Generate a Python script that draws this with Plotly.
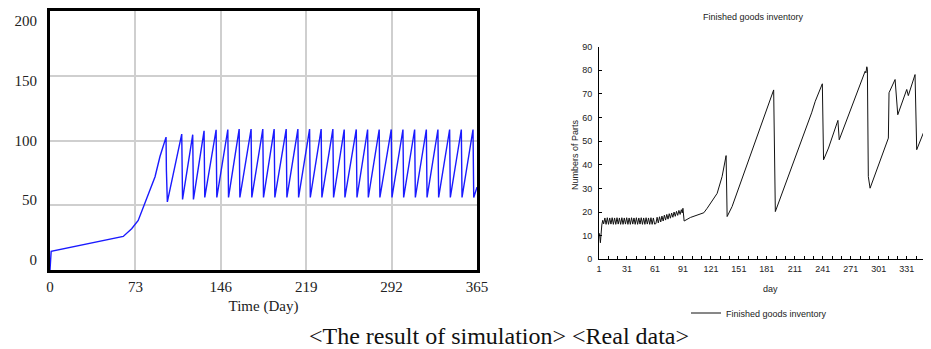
import plotly.graph_objects as go

# ---------------- data: simulation (left) ----------------
sim_day = [0, 0.4, 1.0, 62.6, 66.0, 69.8, 75.4, 82.6, 89.8, 94.0, 99.2, 99.5, 100.3,
           112.6, 112.9, 113.3,
           122.0, 122.3, 122.6,
           131.7, 132.0, 132.3,
           142.0, 142.3, 142.6,
           152.0, 152.3, 152.6,
           161.7, 162.0, 162.3,
           171.9, 172.2, 172.5,
           181.9, 182.2, 182.5,
           191.6, 191.9, 192.2,
           201.9, 202.2, 202.5,
           211.9, 212.2, 212.5,
           221.9, 222.2, 222.5,
           231.8, 232.1, 232.4,
           241.8, 242.1, 242.4,
           251.5, 251.8, 252.1,
           261.8, 262.1, 262.4,
           271.5, 271.8, 272.1,
           281.4, 281.7, 282.0,
           291.7, 292.0, 292.3,
           301.7, 302.0, 302.3,
           311.7, 312.0, 312.3,
           321.7, 322.0, 322.3,
           331.6, 331.9, 332.2,
           341.6, 341.9, 342.2,
           351.6, 351.9, 352.2,
           361.6, 361.9, 362.2,
           365.0]
sim_value = [0, 12.0, 14.5, 25.9, 28.5, 31.9, 38.3, 55.2, 72.0, 87.6, 102.6, 77.0, 52.6,
             105.0, 80.0, 54.5,
             104.5, 81.0, 54.5,
             107.5, 82.0, 56.0,
             108.3, 82.0, 56.0,
             108.5, 82.0, 56.0,
             108.8, 82.0, 56.0,
             108.8, 82.0, 56.0,
             108.8, 82.0, 56.0,
             108.8, 82.0, 56.0,
             108.8, 82.0, 56.0,
             108.8, 82.0, 56.0,
             108.8, 82.0, 56.0,
             108.8, 82.0, 56.0,
             108.8, 82.0, 56.0,
             108.5, 82.0, 56.0,
             108.5, 82.0, 56.0,
             108.5, 82.0, 56.0,
             108.5, 82.0, 56.0,
             108.5, 82.0, 56.0,
             108.5, 82.0, 56.0,
             108.5, 82.0, 56.0,
             108.5, 82.0, 56.0,
             108.5, 82.0, 56.0,
             108.5, 82.0, 56.0,
             108.5, 82.0, 56.0,
             108.5, 82.0, 56.0,
             64.0]

sim_xticks = [0, 73, 146, 219, 292, 365]
sim_yticks = [0, 50, 100, 150, 200]

# ---------------- data: real (right) ----------------
real_day = [1.5, 2.5, 4.0, 5.0, 6.0,
            7.3, 8.6, 9.9, 11.2, 12.5, 13.8, 15.1, 16.4, 17.7, 19.0, 20.3, 21.6, 22.9, 24.2,
            25.5, 26.8, 28.1, 29.4, 30.7, 32.0, 33.3, 34.6, 35.9, 37.2, 38.5, 39.8, 41.1, 42.4,
            43.7, 45.0, 46.3, 47.6, 48.9, 50.2, 51.5, 52.8, 54.1, 55.4, 56.7, 58.0, 59.3, 60.6,
            62.0, 63.3, 64.6, 65.9, 67.2, 68.5, 69.8, 71.1, 72.4, 73.7, 75.0, 76.3, 77.6, 78.9,
            80.2, 81.5, 82.8, 84.1, 85.4, 86.7, 88.0, 89.3, 90.3, 91.0, 92.3,
            99.0, 113.4, 117.0, 122.0, 127.7, 133.0, 137.3, 138.4, 143.7, 188.3, 190.1,
            229.0, 232.9, 240.5, 241.8, 247.1, 257.2, 258.6, 286.4, 287.2, 288.2, 288.8,
            289.8, 291.7, 311.3, 312.0, 318.5, 321.4, 331.0, 332.7, 339.9, 341.7, 355.9, 361.0]
real_value = [11.0, 7.0, 14.5, 16.5, 15.0,
              17.5, 14.8, 17.6, 14.8, 17.5, 14.9, 17.6, 14.8, 17.5, 14.8, 17.6, 14.9, 17.5, 14.8,
              17.6, 14.8, 17.5, 14.9, 17.6, 14.8, 17.5, 14.8, 17.6, 14.9, 17.5, 14.8, 17.6, 14.8,
              17.5, 14.9, 17.6, 14.8, 17.5, 14.8, 17.6, 14.9, 17.5, 14.8, 17.6, 14.8, 17.5, 14.9,
              15.1, 17.8, 15.4, 18.0, 15.8, 18.3, 16.2, 18.7, 16.6, 19.0, 17.0, 19.3, 17.4, 19.6,
              17.8, 20.0, 18.2, 20.3, 18.6, 20.7, 19.0, 21.0, 19.6, 21.6, 16.2,
              17.7, 19.7, 21.6, 24.5, 27.9, 35.0, 43.9, 18.1, 22.3, 71.7, 20.2,
              62.0, 66.9, 74.3, 42.1, 47.1, 58.8, 50.6, 79.6, 78.9, 81.5, 80.5,
              35.0, 30.1, 51.3, 70.5, 76.1, 61.2, 71.9, 69.3, 78.2, 46.4, 60.5, 63.5]

real_ytick_step = 10
real_xtick_start = 1
real_xtick_step = 30

# ---------------- geometry (screen px -> paper fractions) ----------------
OFF = 8                      # page body margin
Wf, Hf = 931 - OFF, 349 - OFF


def px(x):
    return (x - OFF) / Wf


def py(y):
    return (Hf - (y - OFF)) / Hf


# ---------------- figure ----------------
fig = go.Figure()

fig.add_trace(go.Scatter(
    x=sim_day, y=sim_value, mode="lines",
    line=dict(color="#1a1aff", width=1.4),
    xaxis="x", yaxis="y", showlegend=False, name="Simulation"))

# carrier for the left panel's tick-label axis
fig.add_trace(go.Scatter(
    x=[None], y=[None], mode="lines", xaxis="x", yaxis="y3",
    showlegend=False, hoverinfo="skip"))

fig.add_trace(go.Scatter(
    x=real_day, y=real_value, mode="lines",
    line=dict(color="#111111", width=1),
    xaxis="x2", yaxis="y2", showlegend=True, name="Finished goods inventory"))

serif = "Liberation Serif, Times New Roman, serif"
sans = "Liberation Sans, Arial, sans-serif"

x2_end = 1 + (931 - 598.3) / 0.9345

# tick-label scale of the left panel (labels sit on a slightly compressed scale)
lab_lo = -10 * 216.7 / 259
lab_hi = lab_lo + 216.7

fig.update_layout(
    template="none",
    width=Wf, height=Hf,
    margin=dict(l=0, r=0, t=0, b=0, autoexpand=False),
    paper_bgcolor="white", plot_bgcolor="white",
    xaxis=dict(domain=[px(50), px(477)], range=[0, 365], tickvals=sim_xticks, automargin=False,
               showgrid=True, gridcolor="#cfcfcf", gridwidth=1.5,
               showline=True, mirror=True, linecolor="black", linewidth=2.5,
               zeroline=False, ticks="", ticklabelstandoff=1,
               tickfont=dict(family=serif, size=15, color="#222"),
               title=dict(text="Time (Day)", font=dict(family=serif, size=15, color="#222"),
                          standoff=7)),
    yaxis=dict(domain=[py(270), py(11)], range=[0, 200], tickvals=sim_yticks, automargin=False,
               showgrid=True, gridcolor="#cfcfcf", gridwidth=1.5,
               showline=True, mirror=True, linecolor="black", linewidth=2.5,
               zeroline=False, ticks="", showticklabels=False),
    yaxis3=dict(domain=[py(270), py(11)], range=[lab_lo, lab_hi], tickvals=sim_yticks,
                overlaying="y", anchor="x", side="left", automargin=False,
                showgrid=False, zeroline=False, showline=False, ticks="",
                ticklabelstandoff=12,
                tickfont=dict(family=serif, size=15, color="#222")),
    xaxis2=dict(domain=[px(599), 1.0], range=[1, x2_end], anchor="y2", automargin=False,
                tick0=real_xtick_start, dtick=real_xtick_step,
                ticks="inside", ticklen=3, tickcolor="black",
                minor=dict(tick0=real_xtick_start, dtick=10, ticks="inside", ticklen=3,
                           tickcolor="black"),
                showgrid=False, zeroline=False, showline=True, linecolor="black", linewidth=1,
                ticklabelstandoff=1,
                tickfont=dict(family=sans, size=9, color="#222")),
    yaxis2=dict(domain=[py(259.3), py(46.7)], range=[0, 90], anchor="x2", automargin=False,
                tick0=0, dtick=real_ytick_step,
                ticks="inside", ticklen=3, tickcolor="black",
                showgrid=False, zeroline=False, showline=True, linecolor="black", linewidth=1,
                ticklabelstandoff=4,
                tickfont=dict(family=sans, size=9, color="#222")),
    legend=dict(x=px(686), y=py(313), xanchor="left", yanchor="middle",
                bgcolor="rgba(0,0,0,0)", font=dict(family=sans, size=9, color="#222"),
                itemwidth=30),
    annotations=[
        dict(text="Finished goods inventory", xref="paper", yref="paper",
             x=px(753), y=py(17), xanchor="center", yanchor="middle", showarrow=False,
             font=dict(family=sans, size=9, color="#222")),
        dict(text="Numbers of Parts", xref="paper", yref="paper", textangle=-90,
             x=px(575), y=py(155), xanchor="center", yanchor="middle", showarrow=False,
             font=dict(family=sans, size=9, color="#222")),
        dict(text="day", xref="paper", yref="paper",
             x=px(770), y=py(289), xanchor="center", yanchor="middle", showarrow=False,
             font=dict(family=sans, size=9, color="#222")),
        dict(text="361", xref="paper", yref="paper",
             x=px(598.3 + 360 * 0.9345), y=py(270), xanchor="center", yanchor="middle",
             showarrow=False,
             font=dict(family=sans, size=9, color="#222")),
        dict(text="&lt;The result of simulation&gt; &lt;Real data&gt;", xref="paper", yref="paper",
             x=px(499), y=py(336), xanchor="center", yanchor="middle", showarrow=False,
             font=dict(family=serif, size=24, color="#111")),
    ],
)

fig.write_html("out.html")
